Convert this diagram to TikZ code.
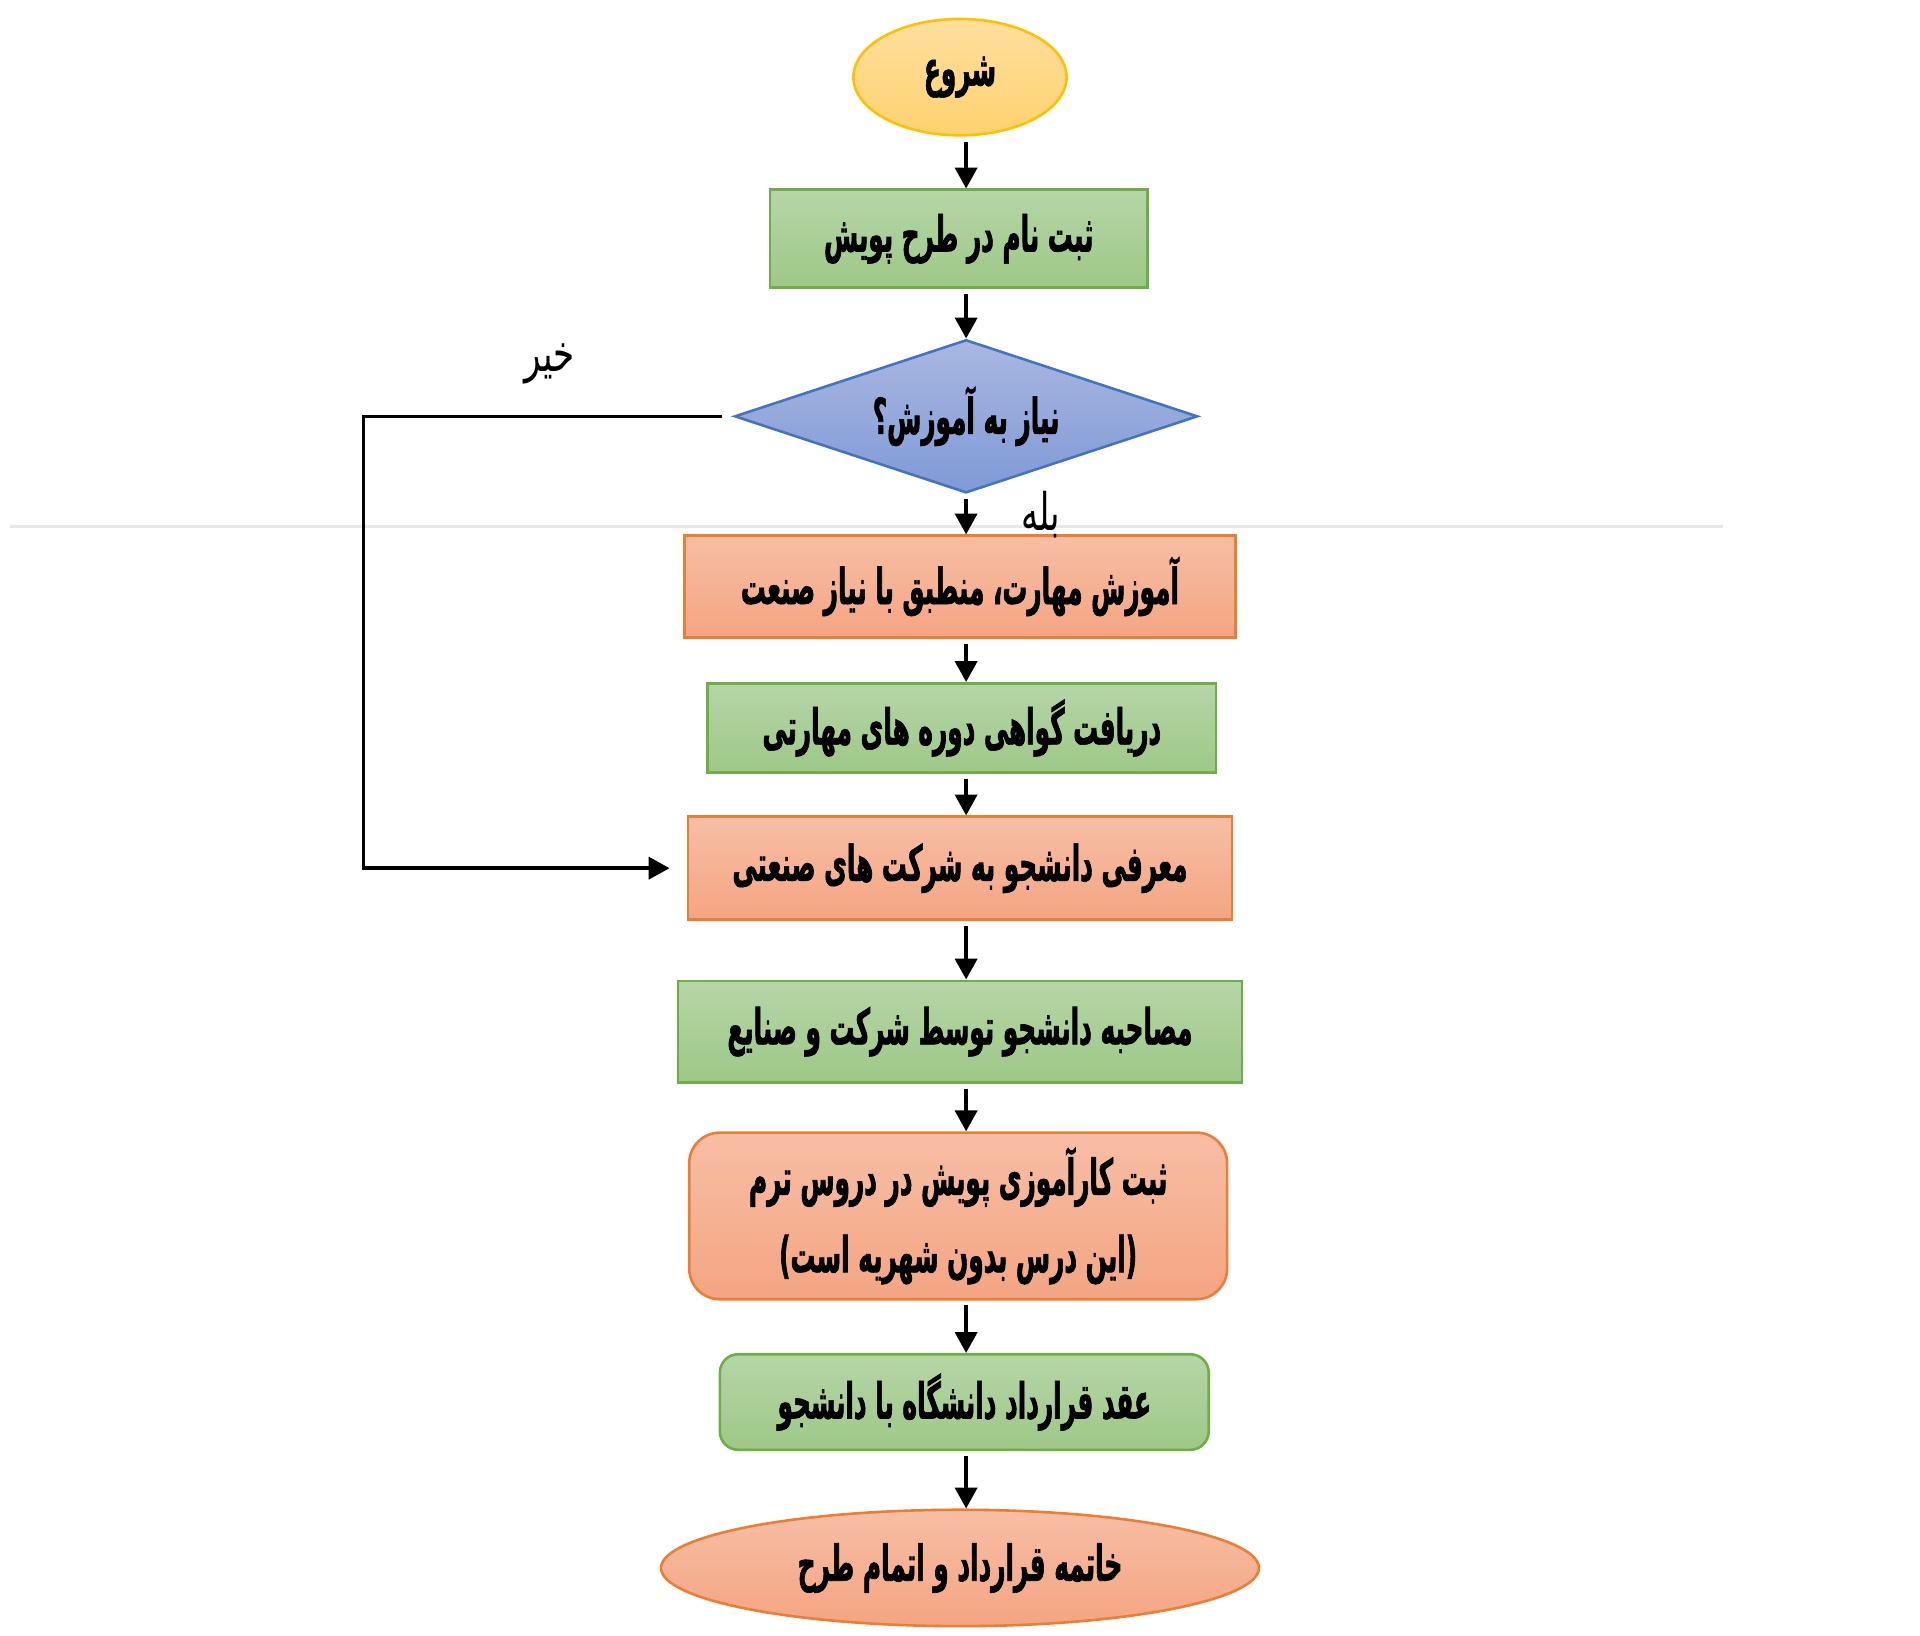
\documentclass[tikz,border=0pt]{standalone}
\usepackage{fontspec}
\usetikzlibrary{shapes.geometric,arrows.meta}
\newfontfamily\farsifont[Script=Arabic,FakeStretch=0.5,FakeBold=1.2]{DejaVu Sans}
\newfontfamily\farsilbl[Script=Arabic,FakeStretch=0.66]{DejaVu Sans}
\TeXXeTstate=1
\definecolor{grnedge}{HTML}{70AD47}
\definecolor{grntop}{HTML}{B5D6A7}
\definecolor{grnbot}{HTML}{9DC886}
\definecolor{orgedge}{HTML}{ED7D31}
\definecolor{orgtop}{HTML}{F7BEA5}
\definecolor{orgbot}{HTML}{F4A582}
\definecolor{bluedge}{HTML}{4472C4}
\definecolor{blutop}{HTML}{A9B7E1}
\definecolor{blubot}{HTML}{7F9AD6}
\definecolor{goldedge}{HTML}{FFC000}
\definecolor{goldtop}{HTML}{FFDF9E}
\definecolor{goldbot}{HTML}{FFD270}

\begin{document}
\begin{tikzpicture}[x=0.01cm,y=-0.01cm,
    boxtext/.style={font=\farsifont\bfseries\fontsize{11.5}{14}\selectfont,inner sep=0},
    greenbox/.style={boxtext,draw=grnedge,line width=0.6pt,top color=grntop,bottom color=grnbot},
    orangebox/.style={boxtext,draw=orgedge,line width=0.6pt,top color=orgtop,bottom color=orgbot},
    decision/.style={boxtext,diamond,shape aspect=3,draw=bluedge,line width=0.6pt,top color=blutop,bottom color=blubot},
    startend/.style={boxtext,ellipse,line width=0.6pt},
    lbl/.style={font=\farsilbl\fontsize{12}{14}\selectfont,inner sep=0},
    flow/.style={draw=black,line width=0.8pt,-{Triangle[width=0.18cm,length=0.17cm]}}]
    \useasboundingbox (0,0) rectangle (1568,1336);
    \draw[black!9,line width=0.6pt] (8,430) -- (1407,430); % faint rule behind the chart

    \node[startend,draw=goldedge,top color=goldtop,bottom color=goldbot,minimum width=1.74cm,minimum height=0.95cm] (start) at (784,63) {\beginR شروع\endR};
    \node[greenbox,minimum width=3.08cm,minimum height=0.80cm] (enroll) at (783,195) {\beginR ثبت نام در طرح پویش\endR};
    \node[decision,minimum width=3.78cm,minimum height=1.25cm] (need) at (789,340) {\beginR نیاز به آموزش؟\endR};
    \node[orangebox,minimum width=4.50cm,minimum height=0.83cm] (train) at (784,479) {\beginR آموزش مهارت، منطبق با نیاز صنعت\endR};
    \node[greenbox,minimum width=4.15cm,minimum height=0.73cm] (cert) at (785.5,594.5) {\beginR دریافت گواهی دوره های مهارتی\endR};
    \node[orangebox,minimum width=4.44cm,minimum height=0.84cm] (intro) at (784,709) {\beginR معرفی دانشجو به شرکت های صنعتی\endR};
    \node[greenbox,minimum width=4.60cm,minimum height=0.83cm] (interview) at (784,842.5) {\beginR مصاحبه دانشجو توسط شرکت و صنایع\endR};
    \node[orangebox,rounded corners=0.25cm,align=center,minimum width=4.39cm,minimum height=1.36cm] (intern) at (782.5,993)
        {\beginR ثبت کارآموزی پویش در دروس ترم\endR\\[0.14cm]\beginR (این درس بدون شهریه است)\endR};
    \node[greenbox,rounded corners=0.15cm,minimum width=3.99cm,minimum height=0.78cm] (contract) at (787.5,1145) {\beginR عقد قرارداد دانشگاه با دانشجو\endR};
    \node[startend,draw=orgedge,top color=orgtop,bottom color=orgbot,minimum width=4.88cm,minimum height=0.95cm] (finish) at (784,1280.5) {\beginR خاتمه قرارداد و اتمام طرح\endR};

    \node[lbl] (no) at (449,297) {\beginR خیر\endR};
    \node[lbl] (yes) at (850,420) {\beginR بله\endR};

    \coordinate (axis) at (789,0);
    \coordinate (nox) at (297,0);
    \foreach \a/\b in {start/enroll,enroll/need,need/train,train/cert,cert/intro,intro/interview,interview/intern,intern/contract,contract/finish}
        \draw[flow,shorten <=0.04cm] (\a.south -| axis) -- (\b.north -| axis);
    \draw[flow,shorten <=0.09cm,shorten >=0.14cm] (need.west) -- (need.west -| nox) |- (intro.west);
\end{tikzpicture}
\end{document}
